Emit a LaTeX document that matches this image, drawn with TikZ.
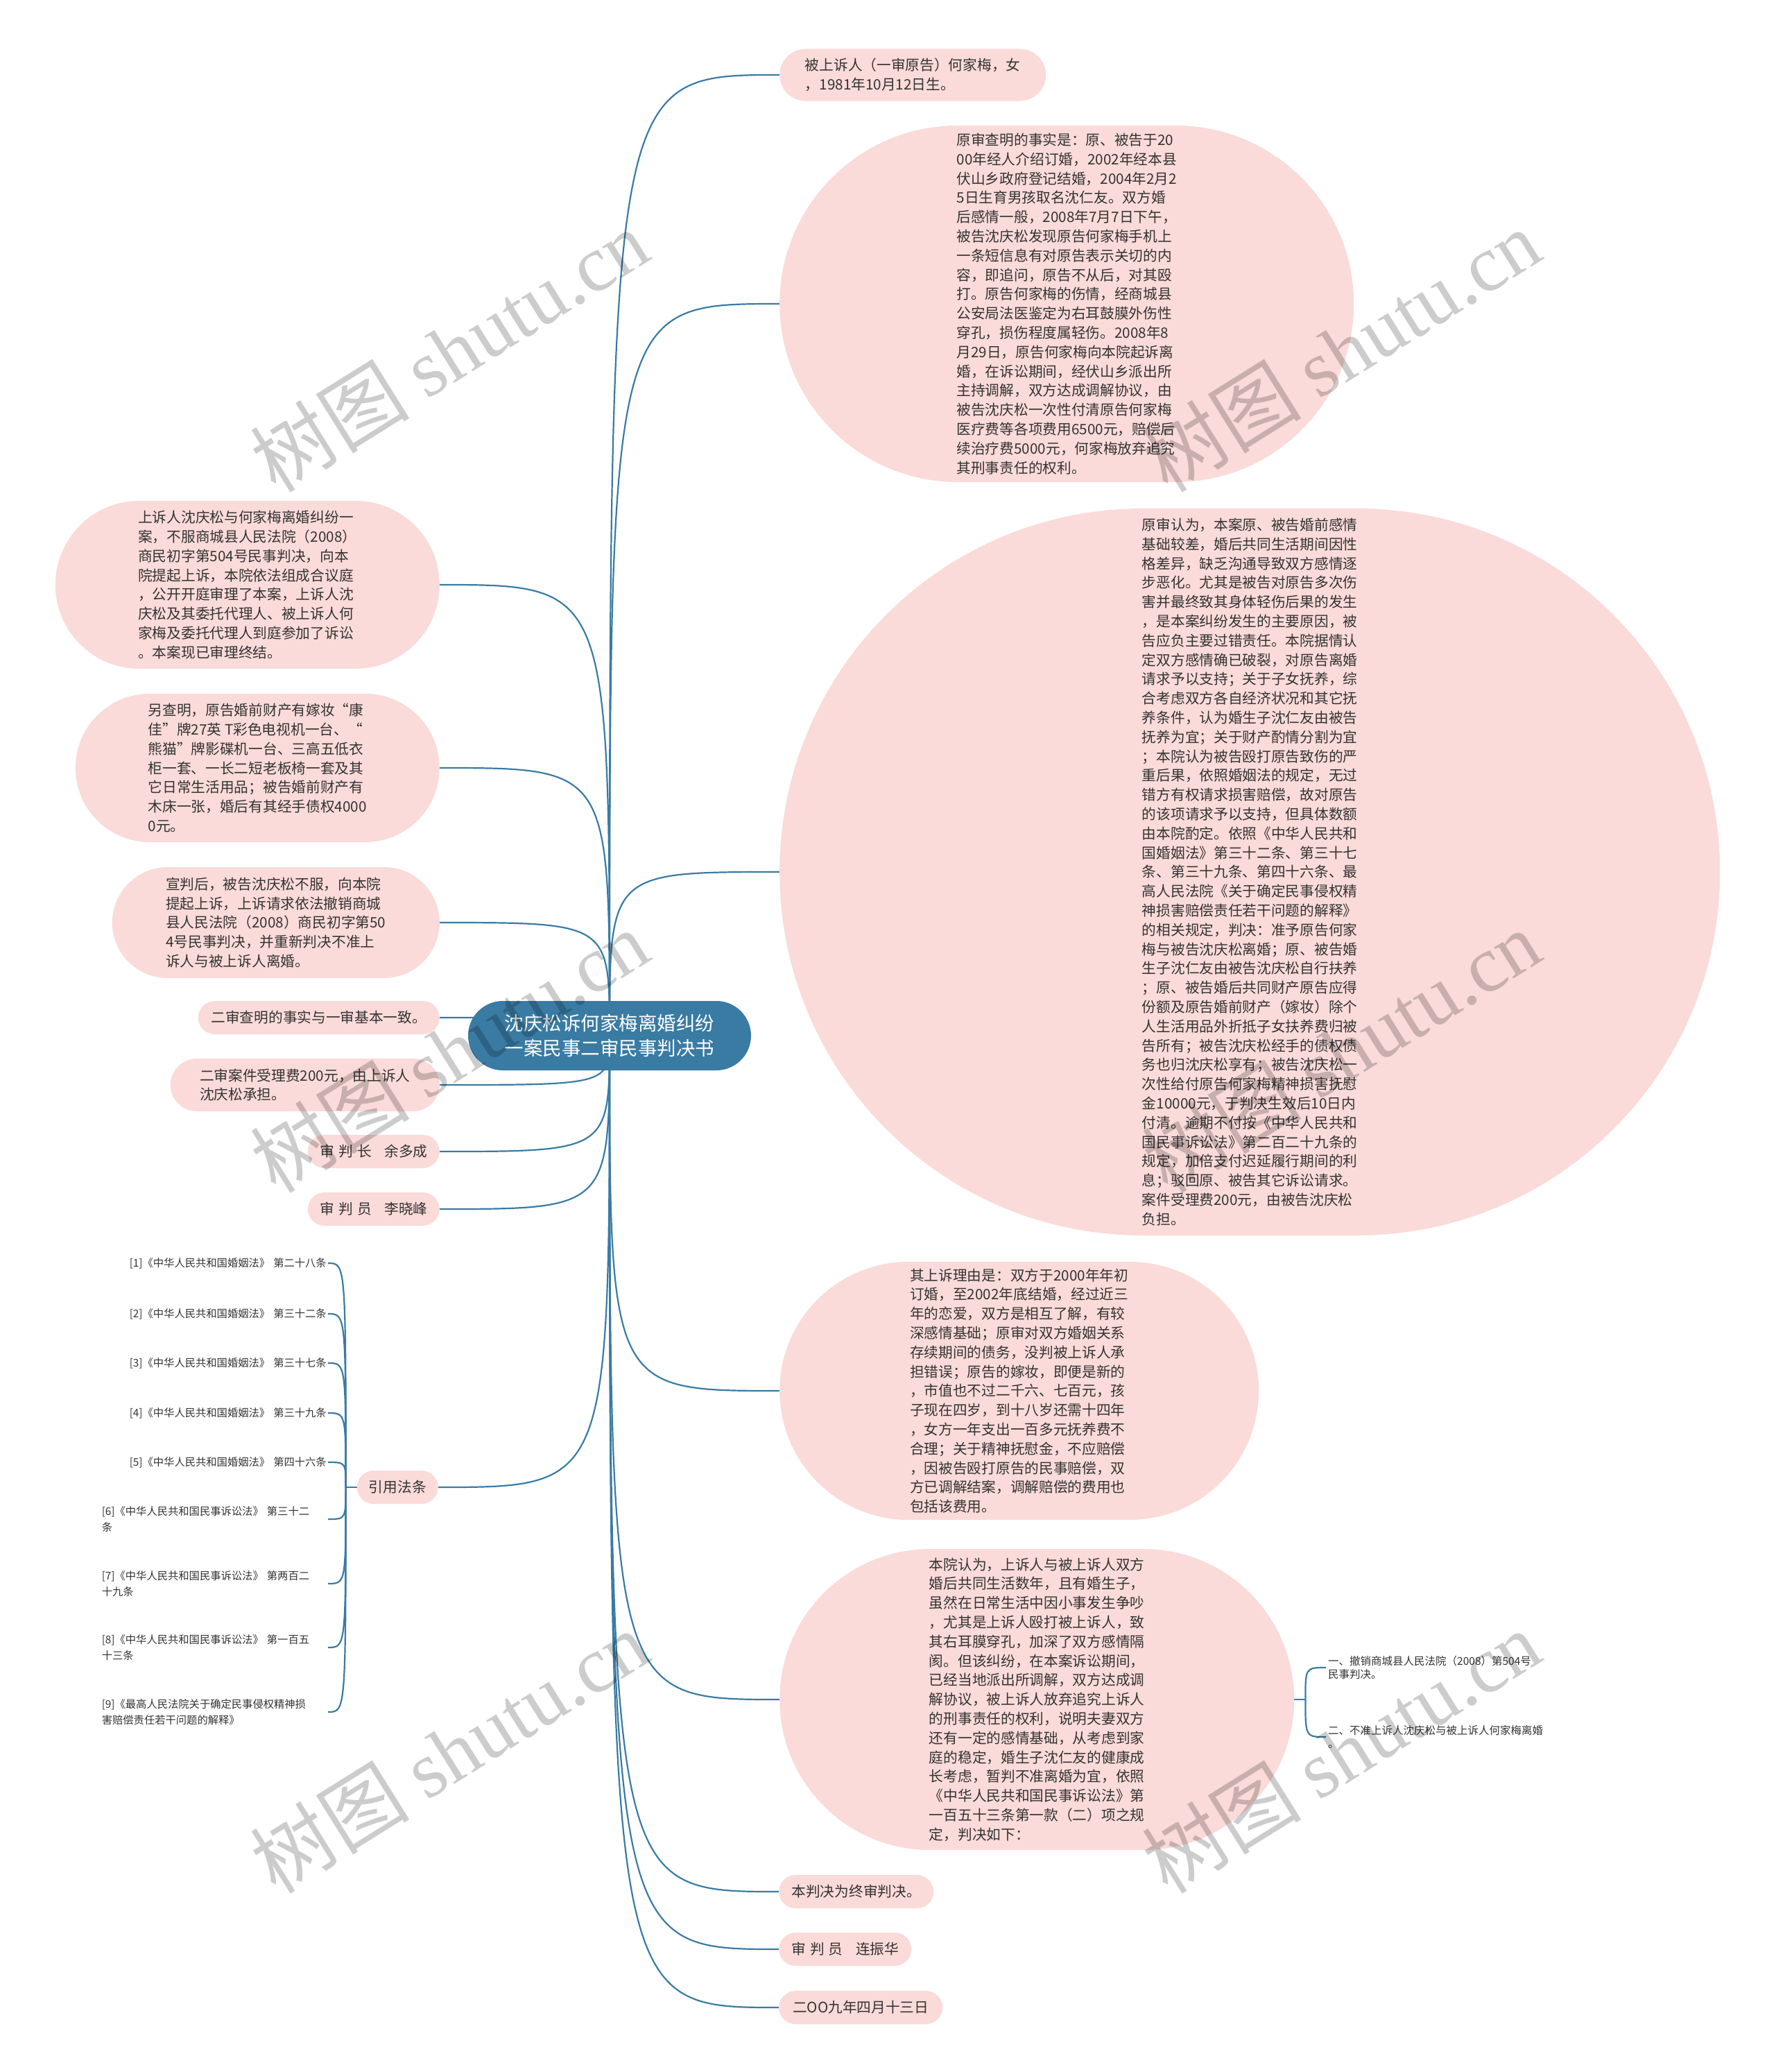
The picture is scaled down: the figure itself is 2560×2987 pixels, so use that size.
\documentclass[tikz,border=0pt]{standalone}
\usepackage{fontspec}
\setmainfont{Noto Sans CJK SC}
\newfontfamily\wmlatin{Liberation Serif}
\usepackage{xcolor}
\usepackage{tikz}
\usetikzlibrary{shapes.misc,backgrounds}

\definecolor{leafpink}{RGB}{250,219,217}
\definecolor{rootblue}{RGB}{57,123,163}
\definecolor{inkgray}{RGB}{51,51,51}

\begin{document}
\begin{tikzpicture}[x=1pt,y=-1pt,
  leaf/.style={rounded rectangle, fill=leafpink, text=inkgray, align=left,
    inner xsep=5pt, inner ysep=4pt, font=\fontsize{20.7}{27.8}\selectfont},
  rootnode/.style={rounded rectangle, fill=rootblue, text=white, align=center,
    inner xsep=12pt, minimum height=100pt, minimum width=432pt,
    font=\fontsize{27.5}{36}\selectfont},
  lawitem/.style={text=inkgray, text width=324pt, inner sep=2pt, anchor=east,
    font=\fontsize{15.3}{23}\selectfont},
  subitem/.style={text=inkgray, align=left, inner sep=3pt, anchor=west,
    font=\fontsize{15.5}{19}\selectfont},
  link/.style={draw=rootblue, line width=2.2pt},
  watermark/.style={rotate=32, text=black, opacity=0.2,
    font=\fontsize{115}{115}\selectfont}]
\useasboundingbox (0,0) rectangle (2560,2987);

% Central topic
\node[rootnode] (root) at (879,1493) {沈庆松诉何家梅离婚纠纷\\一案民事二审民事判决书};

% Right branches
\node[leaf, anchor=west, minimum height=75pt, minimum width=394pt] (r1) at (1124,108) {被上诉人（一审原告）何家梅，女\\，1981年10月12日生。};
\node[leaf, anchor=west, minimum height=514pt, minimum width=838pt] (r2) at (1124,438) {原审查明的事实是：原、被告于20\\
00年经人介绍订婚，2002年经本县\\
伏山乡政府登记结婚，2004年2月2\\
5日生育男孩取名沈仁友。双方婚\\
后感情一般，2008年7月7日下午，\\
被告沈庆松发现原告何家梅手机上\\
一条短信息有对原告表示关切的内\\
容，即追问，原告不从后，对其殴\\
打。原告何家梅的伤情，经商城县\\
公安局法医鉴定为右耳鼓膜外伤性\\
穿孔，损伤程度属轻伤。2008年8\\
月29日，原告何家梅向本院起诉离\\
婚，在诉讼期间，经伏山乡派出所\\
主持调解，双方达成调解协议，由\\
被告沈庆松一次性付清原告何家梅\\
医疗费等各项费用6500元，赔偿后\\
续治疗费5000元，何家梅放弃追究\\
其刑事责任的权利。};
\node[leaf, anchor=west, minimum height=1048pt, minimum width=1366pt] (r3) at (1124,1257) {原审认为，本案原、被告婚前感情\\
基础较差，婚后共同生活期间因性\\
格差异，缺乏沟通导致双方感情逐\\
步恶化。尤其是被告对原告多次伤\\
害并最终致其身体轻伤后果的发生\\
，是本案纠纷发生的主要原因，被\\
告应负主要过错责任。本院据情认\\
定双方感情确已破裂，对原告离婚\\
请求予以支持；关于子女抚养，综\\
合考虑双方各自经济状况和其它抚\\
养条件，认为婚生子沈仁友由被告\\
抚养为宜；关于财产酌情分割为宜\\
；本院认为被告殴打原告致伤的严\\
重后果，依照婚姻法的规定，无过\\
错方有权请求损害赔偿，故对原告\\
的该项请求予以支持，但具体数额\\
由本院酌定。依照《中华人民共和\\
国婚姻法》第三十二条、第三十七\\
条、第三十九条、第四十六条、最\\
高人民法院《关于确定民事侵权精\\
神损害赔偿责任若干问题的解释》\\
的相关规定，判决：准予原告何家\\
梅与被告沈庆松离婚；原、被告婚\\
生子沈仁友由被告沈庆松自行扶养\\
；原、被告婚后共同财产原告应得\\
份额及原告婚前财产（嫁妆）除个\\
人生活用品外折抵子女扶养费归被\\
告所有；被告沈庆松经手的债权债\\
务也归沈庆松享有；被告沈庆松一\\
次性给付原告何家梅精神损害抚慰\\
金10000元，于判决生效后10日内\\
付清。逾期不付按《中华人民共和\\
国民事诉讼法》第二百二十九条的\\
规定，加倍支付迟延履行期间的利\\
息；驳回原、被告其它诉讼请求。\\
案件受理费200元，由被告沈庆松\\
负担。};
\node[leaf, anchor=west, minimum height=372pt, minimum width=701pt] (r4) at (1124,2005) {其上诉理由是：双方于2000年年初\\
订婚，至2002年底结婚，经过近三\\
年的恋爱，双方是相互了解，有较\\
深感情基础；原审对双方婚姻关系\\
存续期间的债务，没判被上诉人承\\
担错误；原告的嫁妆，即便是新的\\
，市值也不过二千六、七百元，孩\\
子现在四岁，到十八岁还需十四年\\
，女方一年支出一百多元抚养费不\\
合理；关于精神抚慰金，不应赔偿\\
，因被告殴打原告的民事赔偿，双\\
方已调解结案，调解赔偿的费用也\\
包括该费用。};
\node[leaf, anchor=west, minimum height=434pt, minimum width=752pt] (r5) at (1124,2450) {本院认为，上诉人与被上诉人双方\\
婚后共同生活数年，且有婚生子，\\
虽然在日常生活中因小事发生争吵\\
，尤其是上诉人殴打被上诉人，致\\
其右耳膜穿孔，加深了双方感情隔\\
阂。但该纠纷，在本案诉讼期间，\\
已经当地派出所调解，双方达成调\\
解协议，被上诉人放弃追究上诉人\\
的刑事责任的权利，说明夫妻双方\\
还有一定的感情基础，从考虑到家\\
庭的稳定，婚生子沈仁友的健康成\\
长考虑，暂判不准离婚为宜，依照\\
《中华人民共和国民事诉讼法》第\\
一百五十三条第一款（二）项之规\\
定，判决如下：};
\node[leaf, anchor=west, minimum height=48pt, minimum width=233pt] (r6) at (1123,2727) {本判决为终审判决。};
\node[leaf, anchor=west, minimum height=48pt, minimum width=201pt] (r7) at (1123,2810) {审\hspace{0.3em}判\hspace{0.3em}员\hspace{0.9em}连振华};
\node[leaf, anchor=west, minimum height=48pt, minimum width=246pt] (r8) at (1123,2894) {二OO九年四月十三日};

% Verdict items
\node[subitem] (r5a) at (1912,2404) {一、撤销商城县人民法院（2008）第504号\\民事判决。};
\node[subitem] (r5b) at (1912,2504) {二、不准上诉人沈庆松与被上诉人何家梅离婚\\。};
\coordinate (r5hub) at ([xshift=16pt]r5.east);

% Left branches
\node[leaf, anchor=east, minimum height=242pt, minimum width=564pt] (l1) at (634,843) {上诉人沈庆松与何家梅离婚纠纷一\\
案，不服商城县人民法院（2008）\\
商民初字第504号民事判决，向本\\
院提起上诉，本院依法组成合议庭\\
，公开开庭审理了本案，上诉人沈\\
庆松及其委托代理人、被上诉人何\\
家梅及委托代理人到庭参加了诉讼\\
。本案现已审理终结。};
\node[leaf, anchor=east, minimum height=214pt, minimum width=535pt] (l2) at (634,1107) {另查明，原告婚前财产有嫁妆“康\\
佳”牌27英 T彩色电视机一台、“\\
熊猫”牌影碟机一台、三高五低衣\\
柜一套、一长二短老板椅一套及其\\
它日常生活用品；被告婚前财产有\\
木床一张，婚后有其经手债权4000\\
0元。};
\node[leaf, anchor=east, minimum height=160pt, minimum width=482pt] (l3) at (634,1330) {宣判后，被告沈庆松不服，向本院\\
提起上诉，上诉请求依法撤销商城\\
县人民法院（2008）商民初字第50\\
4号民事判决，并重新判决不准上\\
诉人与被上诉人离婚。};
\node[leaf, anchor=east, minimum height=48pt, minimum width=358pt] (l4) at (634,1467) {二审查明的事实与一审基本一致。};
\node[leaf, anchor=east, minimum height=76pt, minimum width=398pt] (l5) at (634,1564) {二审案件受理费200元，由上诉人\\沈庆松承担。};
\node[leaf, anchor=east, minimum height=48pt, minimum width=200pt] (l6) at (634,1660) {审\hspace{0.3em}判\hspace{0.3em}长\hspace{0.9em}余多成};
\node[leaf, anchor=east, minimum height=48pt, minimum width=200pt] (l7) at (634,1743) {审\hspace{0.3em}判\hspace{0.3em}员\hspace{0.9em}李晓峰};
\node[leaf, anchor=east, minimum height=48pt, minimum width=127pt] (law) at (632,2144) {引用法条};
\coordinate (lawhub) at ([xshift=-16pt]law.west);

% Cited articles
\node[lawitem, align=right] (law1) at (473,1821) {[1]《中华人民共和国婚姻法》 第二十八条};
\node[lawitem, align=right] (law2) at (473,1894) {[2]《中华人民共和国婚姻法》 第三十二条};
\node[lawitem, align=right] (law3) at (473,1965) {[3]《中华人民共和国婚姻法》 第三十七条};
\node[lawitem, align=right] (law4) at (473,2037) {[4]《中华人民共和国婚姻法》 第三十九条};
\node[lawitem, align=right] (law5) at (473,2108) {[5]《中华人民共和国婚姻法》 第四十六条};
\node[lawitem, align=left] (law6) at (473,2190) {[6]《中华人民共和国民事诉讼法》 第三十二\\条};
\node[lawitem, align=left] (law7) at (473,2283) {[7]《中华人民共和国民事诉讼法》 第两百二\\十九条};
\node[lawitem, align=left] (law8) at (473,2375) {[8]《中华人民共和国民事诉讼法》 第一百五\\十三条};
\node[lawitem, align=left] (law9) at (473,2468) {[9]《最高人民法院关于确定民事侵权精神损\\害赔偿责任若干问题的解释》};

% Connectors
\begin{scope}[on background layer]
\foreach \n in {r1,r2,r3,r4,r5,r6,r7,r8}
  \draw[link] (root.center) .. controls (root.center |- \n.west) .. (\n.west);
\foreach \n in {l1,l2,l3,l4,l5,l6,l7,law}
  \draw[link] (root.center) .. controls (root.center |- \n.east) .. (\n.east);
\draw[link] (law.west) -- (lawhub);
\foreach \k in {1,...,9}
  \draw[link] (lawhub) .. controls (lawhub |- law\k.east) .. (law\k.east);
\draw[link] (r5.east) -- (r5hub);
\draw[link] (r5hub) .. controls (r5hub |- r5a.west) .. (r5a.west);
\draw[link] (r5hub) .. controls (r5hub |- r5b.west) .. (r5b.west);
\end{scope}

% Watermarks
\foreach \wx/\wy [count=\k] in {648/505,1934/505,648/1515,1934/1515,648/2525,1934/2525}
  \node[watermark] (wm\k) at (\wx,\wy) {树图 {\wmlatin shutu.cn}};

\end{tikzpicture}
\end{document}
